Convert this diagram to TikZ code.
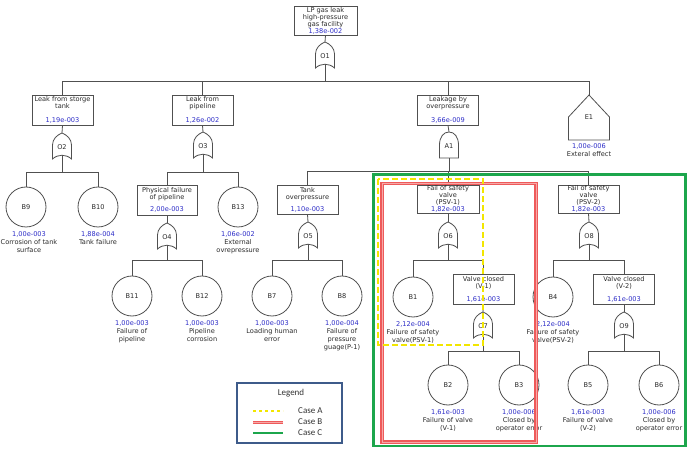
\documentclass[tikz,border=0pt]{standalone}
\usepackage{fontspec}
\newfontfamily\ftfont{DejaVu Sans}
\newfontfamily\legfont{Carlito}
\usetikzlibrary{calc}
\definecolor{linegray}{HTML}{505050}
\definecolor{valblue}{HTML}{2E2EC8}
\definecolor{txtgray}{HTML}{2A2A2A}
\definecolor{caseA}{HTML}{F2E600}
\definecolor{caseB}{HTML}{EE5A5A}
\definecolor{caseBin}{HTML}{F6A8A8}
\definecolor{caseC}{HTML}{1CA64C}
\definecolor{legframe}{HTML}{3E5B8A}
\newcommand{\vl}[1]{\textcolor{valblue}{#1}}
\newcommand{\evfont}{\ftfont\fontsize{6.6}{7}\selectfont}
\newcommand{\dsfont}{\ftfont\fontsize{6.6}{8}\selectfont}
\newcommand{\lgfont}{\legfont\fontsize{9}{10}\selectfont}
\tikzset{
  conn/.style={draw=linegray, line width=0.8pt},
  evbox/.style={draw=linegray, line width=0.8pt, minimum width=61pt, minimum height=30pt,
    inner sep=0pt, align=center, font=\evfont, text=txtgray, fill=white},
  basicev/.style={circle, draw=linegray, line width=0.8pt, minimum size=40pt, inner sep=0pt,
    font=\evfont, text=txtgray, fill=white},
  gatebox/.style={minimum width=19pt, minimum height=22pt, inner sep=0pt},
  gatelbl/.style={font=\evfont, text=txtgray, inner sep=0pt},
  desc/.style={align=center, font=\dsfont, text=txtgray, inner sep=0pt, anchor=north},
  legtext/.style={font=\lgfont, text=black!80, inner sep=0pt},
}
\newcommand{\orgate}[3]{%
  \coordinate (#1c) at (#2);
  \draw[conn, fill=white, shift={(#1c)}] (-9.5,15) -- (-9.5,1)
    .. controls (-9.5,-5) and (-5,-9) .. (0,-11)
    .. controls (5,-9) and (9.5,-5) .. (9.5,1) -- (9.5,15)
    .. controls (4,10) and (-4,10) .. cycle;
  \node[gatebox] (#1) at (#1c) {};
  \node[gatelbl] (#1t) at ($(#1c)+(0,3)$) {#3};
}
\newcommand{\andgate}[3]{%
  \coordinate (#1c) at (#2);
  \draw[conn, fill=white, shift={(#1c)}] (-9.5,13) -- (-9.5,0)
    .. controls (-9.5,-8) and (-5.5,-13) .. (0,-13)
    .. controls (5.5,-13) and (9.5,-8) .. (9.5,0) -- (9.5,13) -- cycle;
  \node[gatebox, minimum height=26pt] (#1) at (#1c) {};
  \node[gatelbl] (#1t) at ($(#1c)+(0,1)$) {#3};
}
\newcommand{\basicev}[5][0pt]{%
  \node[basicev] (#2) at (#3) {#4};
  \node[desc] (#2d) at ([yshift=-4pt,xshift=#1]#2.south) {#5};
}
\begin{document}
\begin{tikzpicture}[x=1pt,y=-1pt]
\useasboundingbox (0,0) rectangle (691,454);
\fill[white] (0,0) rectangle (691,454);

% ---- events (boxes)
\node[evbox, minimum width=63pt, minimum height=29pt] (top) at (325.5,20.5)
  {LP gas leak\\high-pressure\\gas facility\\\vl{1,38e-002}};
\node[evbox] (L2a) at (62.5,110) {Leak from storge\\tank\\[7pt]\vl{1,19e-003}};
\node[evbox] (L2b) at (202.5,110) {Leak from\\pipeline\\[7pt]\vl{1,26e-002}};
\node[evbox] (L2c) at (448,110) {Leakage by\\overpressure\\[7pt]\vl{3,66e-009}};
\node[evbox, minimum width=60pt] (L3a) at (167,200) {Physical failure\\of pipeline\\[5pt]\vl{2,00e-003}};
\node[evbox, minimum height=29pt] (L3b) at (307.5,199.5) {Tank\\overpressure\\[5pt]\vl{1,10e-003}};
\node[evbox, minimum width=62pt, minimum height=28pt] (PSV1) at (448,199) {Fail of safety\\valve\\(PSV-1)\\\vl{1,82e-003}};
\node[evbox, minimum height=28pt] (PSV2) at (588.5,199) {Fail of safety\\valve\\(PSV-2)\\\vl{1,82e-003}};
\node[evbox] (V1) at (483.5,289) {Valve closed\\(V-1)\\[6pt]\vl{1,61e-003}};
\node[evbox] (V2) at (624,289) {Valve closed\\(V-2)\\[6pt]\vl{1,61e-003}};

% ---- house event
\node[minimum width=41pt, minimum height=45pt, inner sep=0pt] (E1) at (589,117.5) {};
\draw[conn, shift={(E1.center)}] (0,-22.5) -- (20.5,-0.5) -- (20.5,22.5) -- (-20.5,22.5) -- (-20.5,-0.5) -- cycle;
\node[gatelbl] (E1t) at (589,117) {E1};
\node[desc] (E1d) at ([yshift=-3pt]E1.south) {\vl{1,00e-006}\\Exteral effect};

% ---- gates
\orgate{O1}{325,53}{O1}
\orgate{O2}{62,144}{O2}
\orgate{O3}{203,143}{O3}
\andgate{A1}{449,145}{A1}
\orgate{O4}{167,234}{O4}
\orgate{O5}{308,233}{O5}
\orgate{O6}{448,233}{O6}
\orgate{O8}{589,233}{O8}
\orgate{O7}{483,323}{O7}
\orgate{O9}{624,323}{O9}

% ---- basic events
\basicev[3pt]{B9}{26,207}{B9}{\vl{1,00e-003}\\Corrosion of tank\\surface}
\basicev{B10}{98,207}{B10}{\vl{1,88e-004}\\Tank failure}
\basicev{B13}{238,207}{B13}{\vl{1,06e-002}\\External\\ovrepressure}
\basicev{B11}{132,296}{B11}{\vl{1,00e-003}\\Failure of\\pipeline}
\basicev{B12}{202,296}{B12}{\vl{1,00e-003}\\Pipeline\\corrosion}
\basicev{B7}{272,296}{B7}{\vl{1,00e-003}\\Loading human\\error}
\basicev{B8}{342,296}{B8}{\vl{1,00e-004}\\Failure of\\pressure\\guage(P-1)}
\basicev{B1}{413,297}{B1}{\vl{2,12e-004}\\Failure of safety\\valve(PSV-1)}
\basicev{B4}{553,297}{B4}{\vl{2,12e-004}\\Failure of safety\\valve(PSV-2)}
\basicev{B2}{448,385}{B2}{\vl{1,61e-003}\\Failure of valve\\(V-1)}
\basicev{B3}{519,385}{B3}{\vl{1,00e-006}\\Closed by\\operator error}
\basicev{B5}{588,385}{B5}{\vl{1,61e-003}\\Failure of valve\\(V-2)}
\basicev{B6}{659,385}{B6}{\vl{1,00e-006}\\Closed by\\operator error}

% ---- bus points
\coordinate (O1b) at (325,81);
\coordinate (O2b) at (62,172);
\coordinate (O3b) at (203,172);
\coordinate (A1b) at (449,171);
\coordinate (O4b) at (167,260.5);
\coordinate (O5b) at (308,260.5);
\coordinate (O6b) at (448,260.5);
\coordinate (O8b) at (589,260.5);
\coordinate (O7b) at (483,351);
\coordinate (O9b) at (624,351);

% ---- connectors
\draw[conn] (top.south) -- (O1.north);
\foreach \c in {L2a,L2b,L2c,E1} \draw[conn] (O1.south) -- (O1b) -| (\c.north);
\draw[conn] (L2a.south) -- (O2.north);
\draw[conn] (L2b.south) -- (O3.north);
\draw[conn] (L2c.south) -- (A1.north);
\foreach \c in {B9,B10} \draw[conn] (O2.south) -- (O2b) -| (\c.north);
\foreach \c in {L3a,B13} \draw[conn] (O3.south) -- (O3b) -| (\c.north);
\foreach \c in {L3b,PSV1,PSV2} \draw[conn] (A1.south) -- (A1b) -| (\c.north);
\draw[conn] (L3a.south) -- (O4.north);
\draw[conn] (L3b.south) -- (O5.north);
\draw[conn] (PSV1.south) -- (O6.north);
\draw[conn] (PSV2.south) -- (O8.north);
\foreach \c in {B11,B12} \draw[conn] (O4.south) -- (O4b) -| (\c.north);
\foreach \c in {B7,B8} \draw[conn] (O5.south) -- (O5b) -| (\c.north);
\foreach \c in {B1,V1} \draw[conn] (O6.south) -- (O6b) -| (\c.north);
\foreach \c in {B4,V2} \draw[conn] (O8.south) -- (O8b) -| (\c.north);
\draw[conn] (V1.south) -- (O7.north);
\draw[conn] (V2.south) -- (O9.north);
\foreach \c in {B2,B3} \draw[conn] (O7.south) -- (O7b) -| (\c.north);
\foreach \c in {B5,B6} \draw[conn] (O9.south) -- (O9b) -| (\c.north);

% ---- case frames
\draw[caseC, line width=2.6pt] (373.5,174.5) rectangle (685.5,446);
\draw[caseB, line width=1.3pt, double=caseBin, double distance=1pt] (382,183.5) rectangle (536,442);
\draw[caseA, line width=2.6pt, dash pattern=on 6pt off 3pt] (378,179) rectangle (483,345);

% ---- legend
\node[draw=legframe, line width=1.4pt, minimum width=105pt, minimum height=60pt, inner sep=0pt] (leg) at (289.5,413) {};
\node[legtext] (legt) at (291,393) {Legend};
\coordinate (la1) at (253,411); \coordinate (la2) at (283,411);
\coordinate (lb1) at (253,422); \coordinate (lb2) at (283,422);
\coordinate (lc1) at (253,433); \coordinate (lc2) at (283,433);
\draw[caseA, line width=2.6pt, dash pattern=on 3pt off 3pt] (la1) -- (la2);
\draw[caseB, line width=1pt, double=caseBin, double distance=1pt] (lb1) -- (lb2);
\draw[caseC, line width=2.6pt] (lc1) -- (lc2);
\node[legtext, anchor=west] (lta) at (298,411) {Case A};
\node[legtext, anchor=west] (ltb) at (298,422) {Case B};
\node[legtext, anchor=west] (ltc) at (298,433) {Case C};
\end{tikzpicture}
\end{document}
